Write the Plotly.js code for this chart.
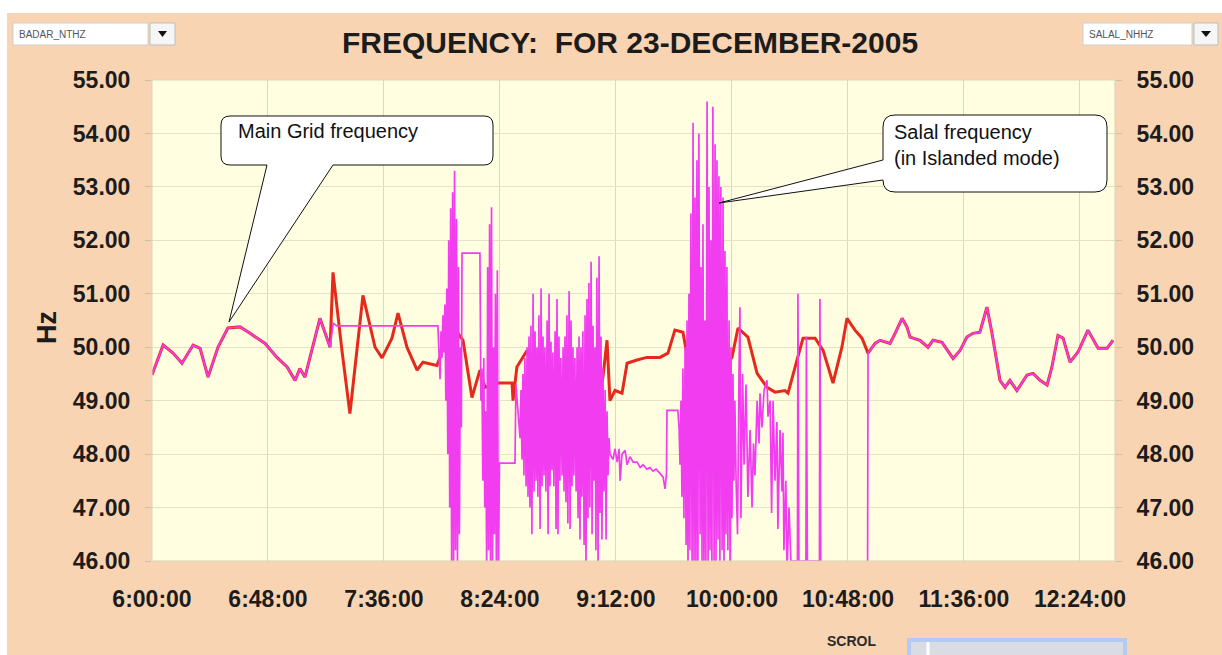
<!DOCTYPE html>
<html><head><meta charset="utf-8">
<script src="https://cdn.plot.ly/plotly-3.0.1.min.js"></script>
<style>html,body{margin:0;padding:0;background:#fff;}#chart{width:1222px;height:655px;}</style>
</head><body><div id="chart"></div>
<script>
// ---------- DATA (minutes after 06:00:00, Hz) ----------
const tickMinutes = [0, 48, 96, 144, 192, 240, 288, 336, 384];
const tickLabels = ["6:00:00","6:48:00","7:36:00","8:24:00","9:12:00","10:00:00","10:48:00","11:36:00","12:24:00"];
const yTicks = [46, 47, 48, 49, 50, 51, 52, 53, 54, 55];

// Main grid frequency (BADAR_NTHZ)
const badarMain = [[0,49.48],[4.6,50.04],[8.7,49.89],[12.4,49.70],[17.0,50.04],[19.9,49.98],[23.2,49.44],[27.3,50.0],[31.4,50.36],[36.4,50.38],[40.6,50.26],[46.8,50.07],[51.7,49.81],[55.9,49.63],[59.2,49.38],[61.2,49.6],[63.3,49.44],[69.5,50.54],[73.7,50.0],[74.9,51.4],[78.6,49.94],[81.9,48.76],[87.3,50.97],[92.3,50.0],[95.2,49.8],[99.3,50.17],[101.8,50.64],[105.5,50.0],[109.7,49.57],[112.1,49.72],[117.9,49.66],[119.2,49.81],[121.2,50.26],[126.6,50.26],[128.7,50.13],[132.4,49.06],[135.7,49.57],[137.8,49.25],[142.8,49.33],[149.0,49.33],[149.4,49.0],[151.0,49.63],[155.2,49.94],[160.6,49.3],[166.8,49.0],[173.0,49.1],[179.2,48.9],[185.4,49.2],[186.6,49.44],[188.3,50.13],[189.5,49.0],[191.6,49.19],[194.5,49.14],[196.6,49.7],[200.7,49.76],[204.8,49.81],[210.2,49.81],[213.5,49.89],[216.4,50.32],[219.7,50.28],[221.8,49.76],[223.9,49.44],[230.9,49.38],[235.0,49.5],[240.0,49.81],[242.5,50.36],[246.6,50.19],[250.4,49.51],[254.5,49.25],[257.8,49.16],[261.9,49.19],[263.2,49.14],[266.9,49.76],[269.4,50.17],[274.4,50.17],[277.7,49.94],[281.8,49.33],[285.5,50.0],[287.6,50.54],[290.9,50.32],[293.8,50.17],[296.3,49.89],[299.2,50.07],[301.3,50.13],[305.4,50.07],[307.5,50.26],[310.4,50.54],[312.4,50.38],[313.7,50.19],[317.8,50.13],[321.1,50.0],[323.2,50.13],[326.9,50.09],[331.5,49.79],[334.4,49.94],[337.2,50.19],[339.7,50.26],[342.6,50.28],[345.5,50.75],[347.6,50.26],[350.9,49.38],[353.0,49.25],[355.0,49.38],[357.9,49.19],[362.1,49.48],[364.6,49.51],[367.5,49.38],[370.4,49.29],[372.4,49.63],[374.9,50.22],[377.0,50.17],[379.9,49.72],[383.2,49.91],[387.3,50.32],[391.5,49.98],[395.2,49.98],[397.7,50.13]];

// Salal frequency while islanded (SALAL_NHHZ)
const salalIslandStart = [[75.0,50.45],[76.5,50.4],[118.3,50.4],[119.2,49.4],[119.6,50.3],[120.0,49.8],[120.4,50.6],[120.8,49.9],[121.2,50.8],[121.6,49.0],[122.0,51.1],[122.4,48.0],[122.8,52.0],[123.2,47.0],[123.6,52.6],[124.0,45.8],[124.4,52.9],[124.8,45.8],[125.2,53.3],[125.6,46.2],[126.0,52.4],[126.4,45.8],[126.8,51.5],[127.2,46.5],[127.6,50.0],[128.0,48.5],[128.3,51.76],[135.7,51.76],[136.1,49.0],[136.5,49.6],[136.9,47.5],[137.3,49.8],[137.7,47.0],[138.1,48.8],[138.5,45.8],[138.9,51.5],[139.3,46.2],[139.7,52.3],[140.1,45.8],[140.5,52.62],[140.9,45.8],[141.3,50.0],[141.7,46.5],[142.1,51.0],[142.5,45.8],[142.9,51.44],[143.3,45.8],[143.8,47.83],[150.2,47.83],[150.6,49.3],[152.3,48.3]];
const salalBurst1 = [[152.7,49.2],[153.1,47.9],[153.5,49.5],[153.9,47.6],[154.3,49.8],[154.8,47.4],[155.2,50.0],[155.6,47.2],[156.0,50.2],[156.4,47.0],[156.8,50.4],[157.2,46.5],[157.7,51.0],[158.1,47.3],[158.5,50.3],[158.9,47.5],[159.3,50.0],[159.7,47.2],[160.1,50.6],[160.6,46.6],[161.0,51.1],[161.4,47.4],[161.8,50.2],[162.2,47.6],[162.6,50.0],[163.0,47.3],[163.5,50.5],[163.9,46.5],[164.3,51.0],[164.7,47.4],[165.1,50.1],[165.5,47.7],[165.9,49.9],[166.3,47.4],[166.8,50.3],[167.2,46.6],[167.6,50.9],[168.0,46.5],[168.4,50.2],[168.8,47.5],[169.2,49.8],[169.7,47.6],[170.1,50.0],[170.5,47.3],[170.9,50.2],[171.3,47.1],[171.7,50.6],[172.1,46.7],[172.6,51.05],[173.0,46.6],[173.4,50.5],[173.8,47.4],[174.2,50.0],[174.6,47.6],[175.0,49.8],[175.5,47.3],[175.9,50.0],[176.3,46.8],[176.7,50.2],[177.1,46.4],[177.5,50.0],[177.9,47.2],[178.3,50.3],[178.8,46.3],[179.2,50.6],[179.6,45.8],[180.0,50.9],[180.4,46.8],[180.8,51.2],[181.2,47.0],[181.7,51.6],[182.1,46.5],[182.5,50.4],[182.9,47.5],[183.3,50.0],[183.7,46.2],[184.1,51.3],[184.6,45.8],[185.0,51.7],[185.4,46.9],[185.8,50.2],[186.2,46.4],[186.6,49.6],[187.0,47.3],[187.5,49.2],[187.9,46.4],[188.3,48.8],[188.7,47.6],[189.1,48.3],[189.5,48.0]];
const salalPlateau = [[190.8,47.9],[191.6,48.1],[192.5,47.85],[193.3,48.1],[193.7,47.5],[194.5,48.0],[195.8,48.07],[196.6,47.8],[197.8,47.95],[199.1,47.85],[200.7,47.85],[202.0,47.75],[203.2,47.8],[204.8,47.72],[206.1,47.75],[207.3,47.68],[208.6,47.72],[210.2,47.64],[211.5,47.57],[212.3,47.35],[212.9,47.64],[213.1,48.82],[217.6,48.82]];
const salalBurst2 = [[218.1,48.5],[218.5,47.8],[218.9,49.0],[219.3,47.2],[219.7,49.6],[220.1,46.8],[220.6,50.0],[221.0,46.3],[221.4,50.5],[221.8,45.8],[222.2,51.0],[222.6,46.2],[223.0,52.5],[223.5,45.8],[223.9,54.2],[224.3,46.0],[224.7,52.8],[225.1,45.8],[225.5,53.5],[225.9,45.8],[226.3,54.0],[226.8,46.5],[227.2,51.5],[227.6,46.0],[228.0,52.3],[228.4,45.8],[228.8,50.5],[229.2,46.0],[229.7,54.6],[230.1,45.8],[230.5,53.0],[230.9,46.2],[231.3,52.0],[231.7,45.8],[232.1,54.5],[232.6,46.0],[233.0,53.8],[233.4,46.0],[233.8,53.5],[234.2,46.4],[234.6,53.2],[235.0,45.8],[235.4,53.0],[235.9,46.2],[236.3,52.8],[236.7,45.8],[237.1,51.8],[237.5,46.5],[237.9,51.5],[238.3,46.2],[238.8,50.5],[239.2,45.8],[239.6,50.0],[240.0,46.8],[240.4,49.5],[240.8,47.5],[241.2,49.0]];
const salalIslandEnd = [[241.7,47.5],[242.3,46.5],[242.9,49.5],[243.3,50.75],[243.7,46.8],[244.4,49.5],[245.0,47.8],[245.8,49.3],[246.6,47.2],[247.5,48.45],[248.3,47.0],[248.9,48.2],[249.5,47.6],[250.4,49.0],[251.2,48.2],[251.6,49.14],[252.4,48.5],[253.3,49.2],[254.5,49.38],[254.9,48.7],[255.8,49.0],[256.4,46.9],[257.0,49.0],[257.8,47.5],[258.6,48.6],[259.0,46.6],[259.9,48.45],[260.7,47.3],[261.1,48.4],[261.5,46.2],[262.3,47.5],[262.8,45.8],[263.6,47.0],[264.4,46.0],[267.1,46.0],[267.3,51.0],[267.7,46.0],[270.6,46.0],[270.8,50.2],[271.2,46.0],[276.2,46.0],[276.4,50.9],[276.8,45.5],[296.1,45.5]];

// Salal follows the main grid before islanding and after re-synchronising
const salalSeries = badarMain.filter(p => p[0] <= 73.7)
  .concat(salalIslandStart, salalBurst1, salalPlateau, salalBurst2, salalIslandEnd)
  .concat(badarMain.filter(p => p[0] >= 296.3));

// ---------- LAYOUT GEOMETRY ----------
const W = 1222, H = 655, PL = 152, PR = 1115, PT = 80, PB = 561;
const fx = px => (px - PL) / (PR - PL);
const fy = py => (PB - py) / (PB - PT);
const P = (px, py) => fx(px).toFixed(5) + ',' + fy(py).toFixed(5);

const FONT = 'Arial, "Liberation Sans", sans-serif';
const TXT = '#1c1c1c';

function callout1() {
  const l = 221, r = 493, t = 116, b = 165, c = 9;
  return 'M' + P(229, 322) + ' L' + P(267, b) + ' L' + P(l + c, b) + ' Q' + P(l, b) + ' ' + P(l, b - c) +
    ' L' + P(l, t + c) + ' Q' + P(l, t) + ' ' + P(l + c, t) + ' L' + P(r - c, t) + ' Q' + P(r, t) + ' ' + P(r, t + c) +
    ' L' + P(r, b - c) + ' Q' + P(r, b) + ' ' + P(r - c, b) + ' L' + P(333, b) + ' Z';
}
function callout2() {
  const l = 883, r = 1107, t = 115, b = 192, c = 12;
  return 'M' + P(719, 203) + ' L' + P(l, 180) + ' Q' + P(l, b) + ' ' + P(l + c, b) +
    ' L' + P(r - c, b) + ' Q' + P(r, b) + ' ' + P(r, b - c) + ' L' + P(r, t + c) + ' Q' + P(r, t) + ' ' + P(r - c, t) +
    ' L' + P(l + c, t) + ' Q' + P(l, t) + ' ' + P(l, t + c) + ' L' + P(l, 160) + ' Z';
}
const rect = (x0, y0, x1, y1, fill, line, lw, layer) => ({type: 'rect', xref: 'paper', yref: 'paper',
  x0: fx(x0), x1: fx(x1), y0: fy(y1), y1: fy(y0), fillcolor: fill, line: {color: line, width: lw}, layer: layer || 'above'});
const tri = (x0, x1, y0, y1) => ({type: 'path', xref: 'paper', yref: 'paper',
  path: 'M' + P(x0, y0) + ' L' + P(x1, y0) + ' L' + P((x0 + x1) / 2, y1) + ' Z', fillcolor: '#111', line: {width: 0}});

const shapes = [
  rect(0, 0, W, 13, '#ffffff', 'rgba(0,0,0,0)', 0, 'below'),
  rect(0, 0, 7, H, '#ffffff', 'rgba(0,0,0,0)', 0, 'below'),
  rect(PL, PT, PR, PB, 'rgba(0,0,0,0)', '#D8D5B2', 1, 'above'),
  {type: 'path', xref: 'paper', yref: 'paper', path: callout1(), fillcolor: '#ffffff', line: {color: '#111', width: 1}},
  {type: 'path', xref: 'paper', yref: 'paper', path: callout2(), fillcolor: '#ffffff', line: {color: '#111', width: 1}},
  rect(13, 23, 148, 45, '#ffffff', '#CFCFCF', 1),
  rect(150, 23, 175, 45, '#F6F6F6', '#BDBDBD', 1),
  tri(158, 167, 31, 37),
  rect(1083, 23, 1192, 45, '#ffffff', '#CFCFCF', 1),
  rect(1194, 23, 1218, 45, '#F6F6F6', '#BDBDBD', 1),
  tri(1201, 1211, 31, 37),
  rect(909, 640, 1125, 662, '#D9DDE3', '#B3CBF4', 4),
  {type: 'line', xref: 'paper', yref: 'paper', x0: fx(928), x1: fx(928), y0: fy(642), y1: fy(660), line: {color: '#ffffff', width: 3}}
];

const annotations = [
  {text: 'Main Grid frequency', xref: 'paper', yref: 'paper', x: fx(236), y: fy(131), xanchor: 'left', yanchor: 'middle',
   showarrow: false, font: {family: FONT, size: 20, color: '#111'}},
  {text: 'Salal frequency<br>(in Islanded mode)', xref: 'paper', yref: 'paper', x: fx(892), y: fy(145), xanchor: 'left', yanchor: 'middle',
   align: 'left', showarrow: false, font: {family: FONT, size: 20, color: '#111'}},
  {text: 'BADAR_NTHZ', xref: 'paper', yref: 'paper', x: fx(17), y: fy(34), xanchor: 'left', yanchor: 'middle',
   showarrow: false, font: {family: FONT, size: 10, color: '#555'}},
  {text: 'SALAL_NHHZ', xref: 'paper', yref: 'paper', x: fx(1087), y: fy(34), xanchor: 'left', yanchor: 'middle',
   showarrow: false, font: {family: FONT, size: 10, color: '#555'}},
  {text: 'SCROL', xref: 'paper', yref: 'paper', x: fx(851), y: fy(641), xanchor: 'center', yanchor: 'middle',
   showarrow: false, font: {family: FONT, size: 14, color: '#2a2a2a', weight: 'bold'}},
  {text: 'Hz', xref: 'paper', yref: 'paper', x: fx(47), y: fy(328), xanchor: 'center', yanchor: 'middle', textangle: -90,
   showarrow: false, font: {family: FONT, size: 27, color: TXT, weight: 'bold'}}
];

const tickFont = {family: FONT, size: 23, color: TXT, weight: 'bold'};

const traces = [
  {x: badarMain.map(p => p[0]), y: badarMain.map(p => p[1]), mode: 'lines', name: 'BADAR_NTHZ',
   line: {color: '#E5291C', width: 3, simplify: false}, xaxis: 'x', yaxis: 'y', hoverinfo: 'skip'},
  {x: salalSeries.map(p => p[0]), y: salalSeries.map(p => p[1]), mode: 'lines', name: 'SALAL_NHHZ',
   line: {color: '#F23CF0', width: 1.7, simplify: false}, xaxis: 'x', yaxis: 'y2', hoverinfo: 'skip'}
];

const layout = {
  width: W, height: H, autosize: false,
  margin: {l: PL, r: W - PR, t: PT, b: H - PB, pad: 0},
  paper_bgcolor: '#F9D4B3', plot_bgcolor: '#FFFEE1',
  showlegend: false,
  title: {text: 'FREQUENCY:\u00A0 FOR 23-DECEMBER-2005', font: {family: FONT, size: 30, color: TXT, weight: 'bold'},
          xref: 'paper', x: fx(630), xanchor: 'center', yref: 'container', y: 1 - 42 / H, yanchor: 'middle'},
  xaxis: {range: [0, 398.5], tickmode: 'array', tickvals: tickMinutes, ticktext: tickLabels,
          showgrid: true, gridcolor: '#DDDAB6', gridwidth: 1, zeroline: false, showline: false,
          ticks: '', ticklabelstandoff: 22, tickfont: tickFont, fixedrange: true},
  yaxis: {range: [46, 55], tickmode: 'array', tickvals: yTicks, tickformat: '.2f',
          showgrid: true, gridcolor: '#E6E3C5', gridwidth: 1, zeroline: false, showline: false,
          ticks: 'outside', ticklen: 6, tickcolor: '#C9C2A6', ticklabelstandoff: 10, tickfont: tickFont, fixedrange: true},
  yaxis2: {range: [46, 55], overlaying: 'y', side: 'right', tickmode: 'array', tickvals: yTicks, tickformat: '.2f',
           showgrid: false, zeroline: false, showline: false,
           ticks: 'outside', ticklen: 6, tickcolor: '#C9C2A6', ticklabelstandoff: 10, tickfont: tickFont, fixedrange: true},
  shapes: shapes,
  annotations: annotations
};

Plotly.newPlot('chart', traces, layout, {displayModeBar: false, staticPlot: true});
</script>
</body></html>
